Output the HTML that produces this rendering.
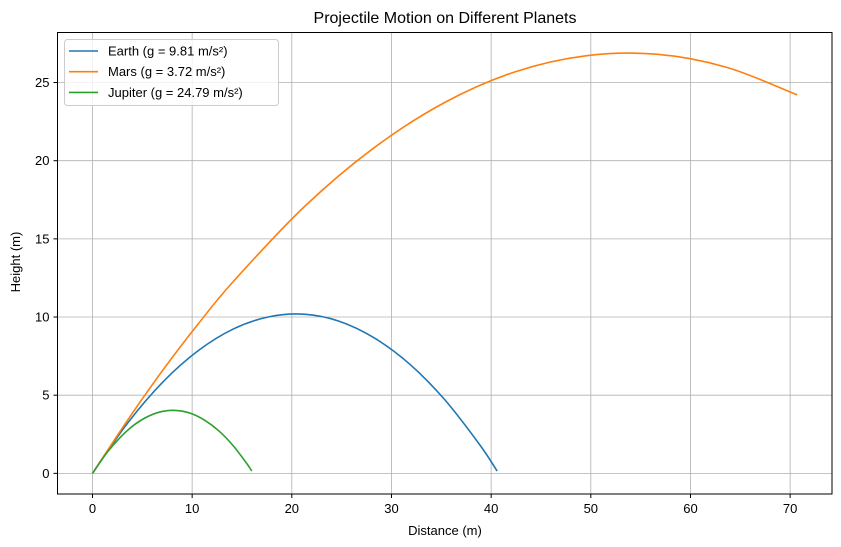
<!DOCTYPE html>
<html><head><meta charset="utf-8"><style>
body{margin:0;background:#fff;}
svg{display:block;font-family:"Liberation Sans","DejaVu Sans",sans-serif;}
</style></head><body>
<svg id="chart" width="841" height="547">
<text x="445" y="23" text-anchor="middle" font-size="16">Projectile Motion on Different Planets</text>
<g id="grid"></g>
<g id="series"></g>
<rect x="57.5" y="32.5" width="774.5" height="461.5" fill="none" stroke="#000" stroke-width="1"/>
<g id="ticks"></g>
<text x="445" y="535" text-anchor="middle" font-size="13">Distance (m)</text>
<text x="20" y="262" text-anchor="middle" font-size="13" transform="rotate(-90 20 262)">Height (m)</text>
<g id="legend">
<rect x="64.5" y="39.5" width="214" height="66" rx="3" fill="#fff" fill-opacity="0.8" stroke="#ccc"/>
</g>
</svg>
<script>
const xTicks=[0,10,20,30,40,50,60,70];
const yTicks=[0,5,10,15,20,25];
const seriesNames=["Earth (g = 9.81 m/s²)","Mars (g = 3.72 m/s²)","Jupiter (g = 24.79 m/s²)"];
const seriesColors=["#1f77b4","#ff7f0e","#2ca02c"];
const earthX=[0,3.54,7.07,10.61,14.14,17.68,21.21,24.75,28.28,31.82,35.36,38.89,40.6];
const earthY=[0,3.23,5.85,7.85,9.24,10.01,10.18,9.73,8.66,6.99,4.70,1.80,0.15];
const marsX=[0,3.54,7.07,10.61,14.14,21.21,28.28,35.36,42.43,49.50,56.57,63.64,70.71];
const marsY=[0,3.42,6.61,9.56,12.28,17.03,20.84,23.73,25.69,26.71,26.81,25.97,24.21];
const jupX=[0,1.41,2.83,4.24,5.66,7.07,8.49,9.90,11.31,12.73,14.14,15.56,15.98];
const jupY=[0,1.29,2.33,3.13,3.67,3.97,4.02,3.83,3.38,2.69,1.75,0.56,0.15];
const NS="http://www.w3.org/2000/svg";
const X0=57.5,X1=832,Y0=32.5,Y1=494,xmin=-3.51,xmax=74.2,ymin=-1.32,ymax=28.2;
const sx=v=>X0+(v-xmin)/(xmax-xmin)*(X1-X0);
const sy=v=>Y1-(v-ymin)/(ymax-ymin)*(Y1-Y0);
function mk(t,a,p){const e=document.createElementNS(NS,t);for(const k in a)e.setAttribute(k,a[k]);p.appendChild(e);return e;}
const grid=document.getElementById('grid'),ticks=document.getElementById('ticks');
xTicks.forEach(v=>{const x=sx(v);
const g=mk('line',{x1:x,x2:x,y1:Y0,y2:Y1,stroke:'#b0b0b0','stroke-width':0.8},grid);

mk('line',{x1:x,x2:x,y1:Y1,y2:Y1+4,stroke:'#000'},ticks);
const t=mk('text',{x:x,y:Y1+19,'text-anchor':'middle','font-size':13},ticks);t.textContent=v;
});
yTicks.forEach(v=>{const y=sy(v);
const g=mk('line',{x1:X0,x2:X1,y1:y,y2:y,stroke:'#b0b0b0','stroke-width':0.8},grid);

mk('line',{x1:X0-4,x2:X0,y1:y,y2:y,stroke:'#000'},ticks);
const t=mk('text',{x:X0-8,y:y+4.5,'text-anchor':'end','font-size':13},ticks);t.textContent=v;
});
function smooth(xs,ys){const p=xs.map((x,i)=>[sx(x),sy(ys[i])]);let d='M'+p[0][0]+','+p[0][1];
for(let i=0;i<p.length-1;i++){const a=p[Math.max(i-1,0)],b=p[i],c=p[i+1],e=p[Math.min(i+2,p.length-1)];
d+=' C'+(b[0]+(c[0]-a[0])/6)+','+(b[1]+(c[1]-a[1])/6)+' '+(c[0]-(e[0]-b[0])/6)+','+(c[1]-(e[1]-b[1])/6)+' '+c[0]+','+c[1];}return d;}
const ser=document.getElementById('series');
const data=[[earthX,earthY],[marsX,marsY],[jupX,jupY]];
const snames=['earth-line','mars-line','jupiter-line'];
data.forEach((s,i)=>{const p=mk('path',{d:smooth(s[0],s[1]),fill:'none',stroke:seriesColors[i],'stroke-width':1.6},ser);
});
const lg=document.getElementById('legend');
seriesNames.forEach((n,i)=>{const y=51+i*20.7;
mk('line',{x1:69,x2:98,y1:y,y2:y,stroke:seriesColors[i],'stroke-width':1.6},lg);
const t=mk('text',{x:108,y:y+4.5,'font-size':13},lg);t.textContent=n;
});
</script>
</body></html>
